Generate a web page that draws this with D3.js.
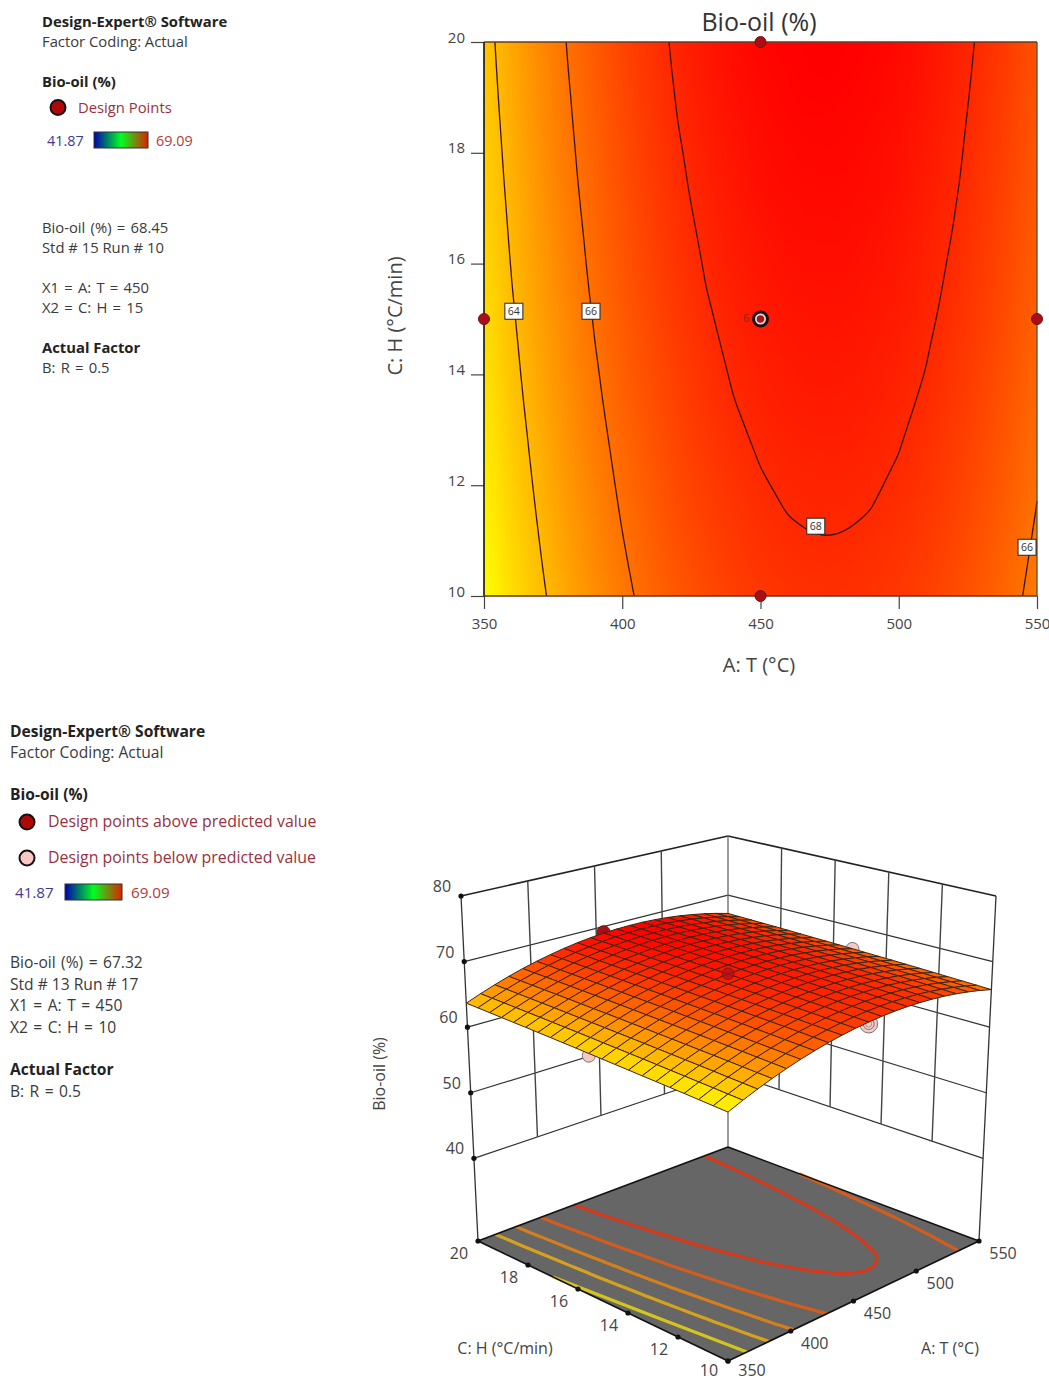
<!DOCTYPE html>
<html><head><meta charset="utf-8">
<style>
html,body{margin:0;padding:0;background:#fff}
svg{display:block}
text{font-family:"Open Sans","Noto Sans",sans-serif}
</style>
<script src="https://cdn.jsdelivr.net/npm/d3@7/dist/d3.min.js"></script>
</head><body><svg id="c" width="1049" height="1381"></svg>
<script>
// ---------- data ----------
const tempTicks=[350,400,450,500,550];
const rateTicks=[10,12,14,16,18,20];
const oilTicks=[40,50,60,70,80];
const tempGrid=d3.range(350,551,10);
const rateGrid=d3.range(10,20.01,0.5);
// Bio-oil % on the grid: one row per heating rate (10 .. 20), one column per temperature (350 .. 550)
const oilH100=[62.13,63.01,63.81,64.54,65.20,65.78,66.29,66.73,67.09,67.38,67.60,67.74,67.81,67.81,67.73,67.58,67.36,67.06,66.69,66.25,65.73];
const oilH105=[62.23,63.11,63.91,64.64,65.30,65.88,66.38,66.82,67.18,67.47,67.69,67.83,67.90,67.90,67.82,67.67,67.44,67.14,66.77,66.33,65.81];
const oilH110=[62.33,63.21,64.00,64.73,65.39,65.97,66.48,66.92,67.27,67.56,67.78,67.92,67.99,67.98,67.90,67.75,67.53,67.23,66.86,66.41,65.89];
const oilH115=[62.43,63.30,64.10,64.83,65.49,66.06,66.57,67.01,67.37,67.65,67.87,68.01,68.08,68.07,67.99,67.84,67.61,67.31,66.94,66.50,65.97];
const oilH120=[62.52,63.39,64.19,64.92,65.57,66.15,66.65,67.09,67.45,67.73,67.95,68.09,68.15,68.15,68.07,67.91,67.69,67.39,67.01,66.57,66.04];
const oilH125=[62.61,63.48,64.28,65.00,65.66,66.23,66.74,67.17,67.53,67.81,68.03,68.17,68.23,68.23,68.14,67.99,67.76,67.46,67.08,66.64,66.12];
const oilH130=[62.69,63.57,64.36,65.09,65.74,66.32,66.82,67.26,67.61,67.90,68.11,68.25,68.31,68.30,68.22,68.06,67.84,67.53,67.16,66.71,66.19];
const oilH135=[62.78,63.66,64.45,65.17,65.83,66.40,66.91,67.34,67.69,67.98,68.19,68.32,68.39,68.38,68.30,68.14,67.91,67.61,67.23,66.78,66.26];
const oilH140=[62.86,63.74,64.53,65.25,65.90,66.48,66.98,67.41,67.76,68.05,68.26,68.39,68.46,68.45,68.36,68.20,67.98,67.67,67.29,66.85,66.32];
const oilH145=[62.94,63.81,64.61,65.33,65.98,66.55,67.05,67.48,67.84,68.12,68.33,68.46,68.52,68.52,68.43,68.27,68.04,67.73,67.36,66.91,66.38];
const oilH150=[63.02,63.89,64.68,65.40,66.05,66.63,67.13,67.56,67.91,68.19,68.40,68.53,68.59,68.58,68.49,68.34,68.11,67.80,67.42,66.97,66.44];
const oilH155=[63.10,63.97,64.76,65.48,66.13,66.70,67.20,67.63,67.98,68.26,68.47,68.60,68.66,68.65,68.56,68.40,68.17,67.86,67.48,67.03,66.50];
const oilH160=[63.17,64.04,64.83,65.55,66.20,66.76,67.26,67.69,68.04,68.32,68.53,68.66,68.72,68.71,68.62,68.46,68.23,67.91,67.53,67.08,66.55];
const oilH165=[63.24,64.11,64.89,65.61,66.26,66.83,67.33,67.76,68.10,68.38,68.59,68.72,68.78,68.77,68.67,68.51,68.28,67.97,67.59,67.14,66.60];
const oilH170=[63.31,64.17,64.96,65.68,66.33,66.89,67.39,67.82,68.17,68.44,68.65,68.78,68.84,68.82,68.73,68.57,68.33,68.02,67.64,67.19,66.65];
const oilH175=[63.38,64.24,65.03,65.75,66.39,66.96,67.45,67.88,68.23,68.50,68.71,68.84,68.89,68.88,68.79,68.62,68.39,68.08,67.69,67.24,66.71];
const oilH180=[63.43,64.30,65.09,65.80,66.45,67.01,67.51,67.93,68.28,68.55,68.76,68.89,68.94,68.93,68.83,68.67,68.43,68.12,67.74,67.28,66.75];
const oilH185=[63.49,64.36,65.14,65.86,66.50,67.07,67.56,67.99,68.33,68.61,68.81,68.94,68.99,68.97,68.88,68.71,68.48,68.16,67.78,67.32,66.79];
const oilH190=[63.55,64.42,65.20,65.91,66.56,67.12,67.62,68.04,68.38,68.66,68.86,68.98,69.04,69.02,68.93,68.76,68.52,68.21,67.82,67.36,66.83];
const oilH195=[63.61,64.47,65.26,65.97,66.61,67.18,67.67,68.09,68.43,68.71,68.91,69.03,69.09,69.07,68.97,68.80,68.57,68.25,67.86,67.41,66.87];
const oilH200=[63.66,64.52,65.30,66.02,66.66,67.22,67.71,68.13,68.48,68.75,68.95,69.07,69.12,69.11,69.01,68.84,68.60,68.28,67.90,67.44,66.90];
const oilRows=[oilH100,oilH105,oilH110,oilH115,oilH120,oilH125,oilH130,oilH135,oilH140,oilH145,oilH150,oilH155,oilH160,oilH165,oilH170,oilH175,oilH180,oilH185,oilH190,oilH195,oilH200];

const contourLevels=[64,66,68];
const floorLevels=[64,65.33,66.67,68];
// lowest floor contour, read directly from the floor of the 3D view (temperature, heating rate)
const floorLowTemp=[350,354,358,362,365];
const floorLowRate=[17,15.2,13.3,11.4,10];
const labelTemp=[360.8,388.7,470,546.4];
const labelRate=[15.14,15.14,11.26,10.88];
const labelText=["64","66","68","66"];
const designTemp=[350,450,450,450,550];
const designRate=[15,20,15,10,15];
const designOil=[62.7,69.09,68.45,67.32,66.4];
const designAbove=[false,true,true,false,false];

// ---------- shared ----------
const svg=d3.select("#c");
const heat=d3.scaleLinear().domain([62.1,69.1]).range(["#ffff00","#ff0000"]).clamp(true);
const TXT="#3a3a3a";
function text(x,y,s,o={}){
  return svg.append("text").attr("x",x).attr("y",y).text(s)
   .attr("font-size",o.size||14).attr("font-weight",o.bold?700:400)
   .attr("fill",o.fill||TXT).attr("text-anchor",o.anchor||"start")
   .attr("word-spacing",o.ws||null)
   .attr("transform",o.rot?`rotate(${o.rot} ${x} ${y})`:null);
}
const grad=svg.append("defs").append("linearGradient").attr("id","bar");
[["0%","#0000b0"],["50%","#00ff20"],["100%","#e02000"]].forEach(s=>grad.append("stop").attr("offset",s[0]).attr("stop-color",s[1]));

function legend(L){
  text(L.x,L.y[0],"Design-Expert® Software",{bold:true,size:L.fs,fill:"#222"});
  text(L.x,L.y[1],"Factor Coding: Actual",{size:L.fs});
  text(L.x,L.y[2],"Bio-oil (%)",{bold:true,size:L.fs,fill:"#222"});
  L.marks.forEach(m=>{
    svg.append("circle").attr("cx",m.cx).attr("cy",m.cy).attr("r",L.mr).attr("fill",m.fill).attr("stroke","#1a1010").attr("stroke-width",2);
    text(m.tx,m.cy+5,m.s,{size:L.ms,fill:"#9a3040"});
  });
  text(L.lo,L.by+14,"41.87",{size:L.fs-.4,fill:"#3c3c98"});
  svg.append("rect").attr("x",L.bx).attr("y",L.by).attr("width",L.bw).attr("height",16).attr("fill","url(#bar)").attr("stroke","#333");
  text(L.hi,L.by+14,"69.09",{size:L.fs-.4,fill:"#b83838"});
  L.lines.forEach(l=>text(L.x,l[0],l[1],{size:L.fs,bold:l[2],fill:l[2]?"#222":TXT,ws:l[1].includes("=")?1.4:null}));
}
legend({x:42,fs:14.8,ms:14.8,y:[27,47,87],mr:7.5,
  marks:[{cx:58,cy:107.5,fill:"#b00808",tx:78,s:"Design Points"}],
  lo:47,bx:94,by:132,bw:54,hi:156,
  lines:[[233,"Bio-oil (%) = 68.45"],[253,"Std # 15 Run # 10"],[293,"X1 = A: T = 450"],[313,"X2 = C: H = 15"],[353,"Actual Factor",true],[373,"B: R = 0.5"]]});
legend({x:10,fs:15.6,ms:15.9,y:[737,758,800],mr:7.5,
  marks:[{cx:27,cy:822,fill:"#b00808",tx:48,s:"Design points above predicted value"},
         {cx:27,cy:858,fill:"#f8c8c4",tx:48,s:"Design points below predicted value"}],
  lo:15,bx:65,by:884,bw:57,hi:131,
  lines:[[968,"Bio-oil (%) = 67.32"],[990,"Std # 13 Run # 17"],[1011,"X1 = A: T = 450"],[1033,"X2 = C: H = 10"],[1075,"Actual Factor",true],[1097,"B: R = 0.5"]]});

// ---------- contour lines from the grid ----------
const gridToTemp=d3.scaleLinear().domain([0.5,20.5]).range([350,550]).clamp(true);
const gridToRate=d3.scaleLinear().domain([0.5,20.5]).range([10,20]).clamp(true);
const flat=oilRows.flat();
function contourRuns(levels){
  const gen=d3.contours().size([21,21]).thresholds(levels);
  const out=[];
  gen(flat).forEach(g=>{
    const runs=[];
    g.coordinates.forEach(poly=>poly.forEach(ring=>{
      const p=ring.slice(0,-1).map(c=>[gridToTemp(c[0]),gridToRate(c[1])]);
      const n=p.length;
      const onEdge=(a,b)=>(a[0]===b[0]&&(a[0]===350||a[0]===550))||(a[1]===b[1]&&(a[1]===10||a[1]===20));
      let start=-1;
      for(let i=0;i<n;i++){ if(onEdge(p[i],p[(i+1)%n])){start=(i+1)%n;break;} }
      if(start<0){runs.push(p.concat([p[0]]));return;}
      let cur=[p[start]];
      for(let k=0;k<n;k++){
        const a=p[(start+k)%n],b=p[(start+k+1)%n];
        if(onEdge(a,b)){ if(cur.length>1)runs.push(cur); cur=[b]; }
        else cur.push(b);
      }
      if(cur.length>1)runs.push(cur);
    }));
    out.push({level:g.value,runs});
  });
  return out;
}

// ---------- top chart ----------
const x=d3.scaleLinear().domain([350,550]).range([484,1037]);
const y=d3.scaleLinear().domain([10,20]).range([596,42]);
(function heatImage(){
  const small=document.createElement("canvas");small.width=21;small.height=21;
  const sc=small.getContext("2d");
  oilRows.forEach((row,r)=>row.forEach((v,c)=>{sc.fillStyle=heat(v);sc.fillRect(c,20-r,1,1);}));
  const big=document.createElement("canvas");big.width=553;big.height=554;
  const bc=big.getContext("2d");bc.imageSmoothingEnabled=true;bc.imageSmoothingQuality="high";
  bc.drawImage(small,0.5,0.5,20,20,0,0,553,554);
  svg.append("image").attr("x",x(350)).attr("y",y(20)).attr("width",553).attr("height",554)
     .attr("preserveAspectRatio","none").attr("href",big.toDataURL());
})();
const line2=d3.line().x(d=>x(d[0])).y(d=>y(d[1])).curve(d3.curveBasis);
contourRuns(contourLevels).forEach(c=>c.runs.forEach(r=>{
  svg.append("path").attr("d",line2(r)).attr("fill","none").attr("stroke","#3a1410").attr("stroke-width",1.3);
}));
const ax=svg.append("g").attr("transform","translate(0,596)").call(d3.axisBottom(x).tickValues(tempTicks).tickSize(13).tickPadding(9).tickFormat(d3.format("d")));
const ay=svg.append("g").attr("transform","translate(484,0)").call(d3.axisLeft(y).tickValues(rateTicks).tickSize(13).tickPadding(6).tickFormat(d3.format("d")));
[ax,ay].forEach(g=>{g.selectAll("text").attr("font-size",15).attr("fill","#444").attr("font-family",'"Open Sans"');
  g.selectAll("line").attr("stroke","#444").attr("stroke-width",1.2);g.select(".domain").attr("stroke","none");});
ay.selectAll("text").attr("dy","0");
svg.append("line").attr("x1",484).attr("x2",484).attr("y1",42).attr("y2",596).attr("stroke","#111").attr("stroke-width",1.6);
svg.append("line").attr("x1",484).attr("x2",1037).attr("y1",42).attr("y2",42).attr("stroke","#6a3a20").attr("stroke-width",1.5);
svg.append("line").attr("x1",484).attr("x2",1037).attr("y1",596).attr("y2",596).attr("stroke","#6a3020").attr("stroke-width",1.5);
svg.append("line").attr("x1",1037).attr("x2",1037).attr("y1",42).attr("y2",596).attr("stroke","#5a4a40").attr("stroke-width",1.3);
labelText.forEach((s,i)=>{
  const cx=x(labelTemp[i]),cy=y(labelRate[i]);
  svg.append("rect").attr("x",cx-9).attr("y",cy-8).attr("width",18).attr("height",16).attr("fill","#fff").attr("stroke","#222").attr("stroke-width",1);
  text(cx,cy+4,s,{size:10.5,anchor:"middle",fill:"#333"});
});
text(743,322,"6",{size:11,fill:"#8a2020",anchor:"start"});
designTemp.forEach((t,i)=>{
  const cx=x(t),cy=y(designRate[i]);
  if(t===450&&designRate[i]===15){
    svg.append("circle").attr("cx",cx).attr("cy",cy).attr("r",8.5).attr("fill","#1a1010");
    svg.append("circle").attr("cx",cx).attr("cy",cy).attr("r",5.5).attr("fill","#e8d8d8");
    svg.append("circle").attr("cx",cx).attr("cy",cy).attr("r",3.8).attr("fill","#a81418");
  } else svg.append("circle").attr("cx",cx).attr("cy",cy).attr("r",5.5).attr("fill","#a81018").attr("stroke","#701010").attr("stroke-width",1);
});
text(759,31,"Bio-oil (%)",{size:25,anchor:"middle",fill:"#333"});
text(759,672,"A: T (°C)",{size:20,anchor:"middle",fill:"#444"});
text(402,316,"C: H (°C/min)",{size:20,anchor:"middle",fill:"#444",rot:-90});

// ---------- bottom chart ----------
const uS=d3.scaleLinear().domain([350,550]).range([0,1]);
const vS=d3.scaleLinear().domain([10,20]).range([0,1]);
const wS=d3.scaleLinear().domain([27.4,80]).range([0,1]);
const floorC=[[728,1361],[979,1241],[728,1147],[478,1241]];
const roofC=[[728,984],[996,896],[728,836],[461,896]];
function quad(q){ // evenly divided edges, used for the box and its ticks
  return (u,v)=>[0,1].map(k=>(1-u)*(1-v)*q[0][k]+u*(1-v)*q[1][k]+u*v*q[2][k]+(1-u)*v*q[3][k]);
}
function persp(q){ // perspective map of the unit square, used for the data
  const [[x0,y0],[x1,y1],[x2,y2],[x3,y3]]=q;
  const dx1=x1-x2,dx2=x3-x2,dx3=x0-x1+x2-x3,dy1=y1-y2,dy2=y3-y2,dy3=y0-y1+y2-y3;
  const den=dx1*dy2-dx2*dy1;
  const g=(dx3*dy2-dx2*dy3)/den,h=(dx1*dy3-dx3*dy1)/den;
  const a=x1-x0+g*x1,b=x3-x0+h*x3,d=y1-y0+g*y1,e=y3-y0+h*y3;
  return (u,v)=>{const w=g*u+h*v+1;return [(a*u+b*v+x0)/w,(d*u+e*v+y0)/w];};
}
const floorQ=quad(floorC),roofQ=quad(roofC),floorP=persp(floorC),roofP=persp(roofC);
function P(t,h,z){
  const u=uS(t),v=vS(h),w=wS(z),a=floorQ(u,v),b=roofQ(u,v);
  return [a[0]+(b[0]-a[0])*w,a[1]+(b[1]-a[1])*w];
}
function D(t,h,z){ // data position: mostly perspective
  const u=uS(t),v=vS(h),w=wS(z),a=floorP(u,v),b=roofP(u,v),l=P(t,h,z);
  const p=[a[0]+(b[0]-a[0])*w,a[1]+(b[1]-a[1])*w];
  return [0.7*p[0]+0.3*l[0],0.7*p[1]+0.3*l[1]];
}
const line3=d3.line();
function seg(a,b,color,sw){svg.append("path").attr("d",line3([a,b])).attr("stroke",color).attr("stroke-width",sw).attr("fill","none");}
const zBottom=27.4;
// floor
svg.append("path").attr("d",line3([P(350,10,zBottom),P(550,10,zBottom),P(550,20,zBottom),P(350,20,zBottom)])+"Z").attr("fill","#666");
const lineFloor=d3.line().curve(d3.curveBasis);
// the floor's contours sit a little further along the temperature edge than the even tick spacing
const floorTemp=d3.scaleLinear().domain([350,490,550]).range([360,500,550]);
contourRuns(floorLevels).forEach(c=>c.runs.forEach(r=>{
  svg.append("path").attr("d",lineFloor(r.map(d=>P(floorTemp(d[0]),d[1],zBottom)))).attr("fill","none")
   .attr("stroke",heat(c.level)).attr("stroke-opacity",.72).attr("stroke-width",3.2);
}));
svg.append("path").attr("d",lineFloor(floorLowTemp.map((t,i)=>P(t,floorLowRate[i],zBottom)))).attr("fill","none")
   .attr("stroke",heat(62.67)).attr("stroke-opacity",.72).attr("stroke-width",3.2);
// walls
oilTicks.forEach(z=>{
  const c=z===80?"#222":"#333",w=z===80?1.6:1.2;
  seg(P(350,20,z),P(550,20,z),c,w);seg(P(550,20,z),P(550,10,z),c,w);
});
tempTicks.slice(1,-1).forEach(t=>seg(P(t,20,40),P(t,20,80),"#444",1.4));
rateTicks.slice(1,-1).forEach(h=>seg(P(550,h,40),P(550,h,80),"#444",1.4));
seg(P(350,20,zBottom),P(350,20,80),"#333",1.3);
seg(P(550,20,zBottom),P(550,20,80),"#666",1.3);
seg(P(550,10,zBottom),P(550,10,80),"#333",1.3);
// floor outline
seg(P(350,10,zBottom),P(550,10,zBottom),"#111",1.6);
seg(P(550,10,zBottom),P(550,20,zBottom),"#111",1.6);
seg(P(550,20,zBottom),P(350,20,zBottom),"#111",1.6);
seg(P(350,20,zBottom),P(350,10,zBottom),"#111",1.6);
// ticks as dots
oilTicks.forEach(z=>{const p=P(350,20,z);svg.append("circle").attr("cx",p[0]).attr("cy",p[1]).attr("r",2.6).attr("fill","#111");});
rateTicks.forEach(h=>{const p=P(350,h,zBottom);svg.append("circle").attr("cx",p[0]).attr("cy",p[1]).attr("r",2.6).attr("fill","#111");});
tempTicks.forEach(t=>{const p=P(t,10,zBottom);svg.append("circle").attr("cx",p[0]).attr("cy",p[1]).attr("r",2.6).attr("fill","#111");});
// tick labels
oilTicks.forEach(z=>{const p=P(350,20,z);text(p[0]-19,p[1]-4,z,{size:16,anchor:"middle",fill:"#444"});});
rateTicks.forEach(h=>{const p=P(350,h,zBottom);text(p[0]-19,p[1]+(h===10?15:18),h,{size:16,anchor:"middle",fill:"#444"});});
tempTicks.forEach(t=>{const p=P(t,10,zBottom);text(p[0]+24,p[1]+(t===350?15:18),t,{size:16,anchor:"middle",fill:"#444"});});
text(505,1354,"C: H (°C/min)",{size:16,anchor:"middle",fill:"#444"});
text(950,1354,"A: T (°C)",{size:16,anchor:"middle",fill:"#444"});
text(385,1074,"Bio-oil (%)",{size:16,anchor:"middle",fill:"#444",rot:-90});
// design points behind the surface
function dpoint(i,r){
  const p=D(designTemp[i],designRate[i],designOil[i]);
  const g=svg.append("g");
  g.append("circle").attr("cx",p[0]).attr("cy",p[1]).attr("r",r).attr("fill",designAbove[i]?"#a81018":"#f6c8c4").attr("stroke",designAbove[i]?"#701010":"#777").attr("stroke-width",1);
  return {g,p};
}
[0,1,4].forEach(i=>dpoint(i,6.5));
(function(){const d=dpoint(3,9);d.g.append("circle").attr("cx",d.p[0]).attr("cy",d.p[1]).attr("r",5.5).attr("fill","none").attr("stroke","#777");
  d.g.append("circle").attr("cx",d.p[0]).attr("cy",d.p[1]).attr("r",3).attr("fill","none").attr("stroke","#999");})();
// surface, far cells first
const cells=[];
for(let j=19;j>=0;j--)for(let i=19;i>=0;i--){cells.push({i,j,v:(oilRows[j][i]+oilRows[j][i+1]+oilRows[j+1][i]+oilRows[j+1][i+1])/4});}
svg.append("g").selectAll("path").data(cells).join("path")
 .attr("d",c=>line3([[c.i,c.j],[c.i+1,c.j],[c.i+1,c.j+1],[c.i,c.j+1]].map(q=>D(tempGrid[q[0]],rateGrid[q[1]],oilRows[q[1]][q[0]])))+"Z")
 .attr("fill",c=>heat(c.v)).attr("stroke","#3e2412").attr("stroke-width",1);
// centre point shows through
(function(){const p=D(designTemp[2],designRate[2],designOil[2]);
 svg.append("circle").attr("cx",p[0]).attr("cy",p[1]).attr("r",6).attr("fill","#b01018").attr("fill-opacity",.8).attr("stroke","#701010").attr("stroke-opacity",.6);})();
</script></body></html>
